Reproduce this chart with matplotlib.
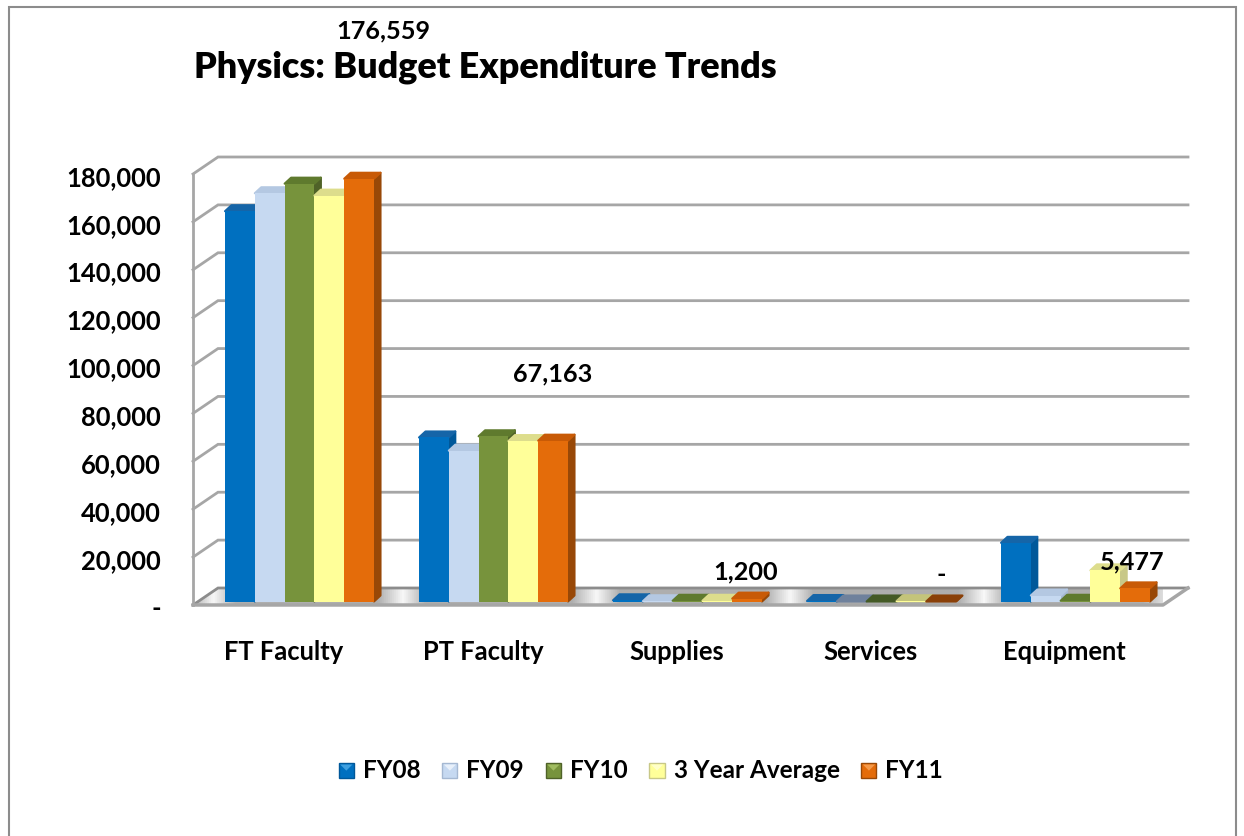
import numpy as np
import matplotlib
matplotlib.use("Agg")
import matplotlib.pyplot as plt
from matplotlib.patches import Polygon, Rectangle, Patch
from matplotlib.transforms import ScaledTranslation
from matplotlib.legend_handler import HandlerBase

plt.rcParams['font.family'] = ['Lato', 'DejaVu Sans']

categories = ["FT Faculty", "PT Faculty", "Supplies", "Services", "Equipment"]
series_names = ["FY08", "FY09", "FY10", "3 Year Average", "FY11"]
fy08 = [163000, 68500, 500, 200, 24500]
fy09 = [170500, 63000, 100, 0, 2500]
fy10 = [174500, 69000, 300, 0, 300]
avg3 = [169500, 67000, 300, 100, 13000]
fy11 = [176559, 67163, 1200, 0, 5477]
all_series = [fy08, fy09, fy10, avg3, fy11]

y_ticks = [0, 20000, 40000, 60000, 80000, 100000, 120000, 140000, 160000, 180000]
y_labels = ["-", "20,000", "40,000", "60,000", "80,000", "100,000", "120,000",
            "140,000", "160,000", "180,000"]
fy11_labels = ["176,559", "67,163", "1,200", "-", "5,477"]

front = ["#0070C0", "#C6D9F1", "#77933C", "#FFFF99", "#E46C0A"]
side = ["#00589A", "#A5B8D2", "#4F6228", "#C8C888", "#984807"]
top = ["#1565A8", "#B4C8E2", "#5F7A2E", "#DDDD8C", "#C85A06"]
flat_top = ["#1565A8", "#6F819C", "#445A25", "#C4C47A", "#8A4008"]
swatch_light = ["#3FA0E0", "#E8F0FA", "#A0BC60", "#FFFFC8", "#F59A4A"]

W, H = 1244, 836
fig = plt.figure(figsize=(W / 100, H / 100), dpi=100)
ax = fig.add_axes([193 / W, 1 - 605 / H, 970 / W, 431 / H])

# pixel sizes turned into data units
px_x = 5 / 970
px_y = 180000 / 431
wall_dx = 25 * px_x
wall_dy = 17 * px_y
bar_w = 29.8 * px_x
bar_dx = 6.5 * px_x
bar_dy = 6 * px_y
bar_base = 3.5 * px_y
group_start = 32 * px_x
grid_color = "#A6A6A6"

for s in ax.spines.values():
    s.set_visible(False)
ax.patch.set_alpha(0)

# floor, with the silver sheen of the office chart: white streaks in the gaps
floor = Polygon([(0, 0), (wall_dx, wall_dy), (5 + wall_dx, wall_dy), (5, 0)],
                closed=True, fc="none", ec="none", zorder=1, clip_on=False)
ax.add_patch(floor)
stops_x = [0, 0.1, 0.22, 0.95, 1.08, 1.2, 1.95, 2.08, 2.2, 2.95, 3.08, 3.2, 3.95, 4.08, 4.2, 4.9, 5.05, 5.13]
stops_v = [0.7, 0.97, 0.68, 0.68, 0.97, 0.68, 0.68, 0.97, 0.68, 0.68, 0.97, 0.68, 0.68, 0.97, 0.68, 0.68, 0.95, 0.85]
sheen = np.interp(np.linspace(0, 5 + wall_dx, 500), stops_x, stops_v)[None, :]
img = ax.imshow(sheen, cmap="gray", vmin=0, vmax=1, aspect="auto", zorder=1,
                extent=(0, 5 + wall_dx, 0, wall_dy), clip_on=True)
img.set_clip_path(floor)
ax.set_xlim(0, 5)
ax.set_ylim(0, 180000)

# walls and gridlines
for v in y_ticks:
    ax.plot([0, wall_dx, 5 + wall_dx], [v, v + wall_dy, v + wall_dy],
            color="#8C8C8C" if v == 0 else grid_color,
            lw=2, clip_on=False, zorder=1.5, solid_joinstyle="miter")
ax.plot([0, 0], [0, 180000], color=grid_color, lw=2, clip_on=False, zorder=1.5)
ax.plot([0, 5, 5 + wall_dx], [0, 0, wall_dy], color=grid_color, lw=2.5, clip_on=False, zorder=1.5)

# bars
for c in range(len(categories)):
    for i, vals in enumerate(all_series):
        x0 = c + group_start + i * bar_w
        x1 = x0 + bar_w
        v = vals[c] + bar_base
        z = 3 + c + i * 0.1
        top_color = flat_top[i] if categories[c] == "Services" else top[i]
        ax.add_patch(Polygon([(x1, bar_base), (x1 + bar_dx, bar_base + bar_dy),
                              (x1 + bar_dx, v + bar_dy), (x1, v)],
                             fc=side[i], ec=side[i], lw=1.5, joinstyle="round", zorder=z, clip_on=False))
        ax.add_patch(Polygon([(x0, v), (x0 + bar_dx, v + bar_dy),
                              (x1 + bar_dx, v + bar_dy), (x1, v)],
                             fc=top_color, ec=top_color, lw=1.5, joinstyle="round", zorder=z, clip_on=False))
        ax.bar(x0, vals[c], width=bar_w, bottom=bar_base, align="edge", color=front[i],
               zorder=z + 0.01, clip_on=False)

# FY11 data labels sit at odd places in the original
label_offsets = [(17.5, 98), (0, 40), (-1, 11), (0, 11), (-2, 11)]
for c, txt in enumerate(fy11_labels):
    x = c + group_start + 4.5 * bar_w
    ax.annotate(txt, (x, fy11[c] + bar_base), xytext=label_offsets[c], textcoords="offset points",
                ha="center", va="bottom", fontsize=18.2, fontweight="bold", color="black",
                zorder=20, annotation_clip=False)

ax.set_yticks(y_ticks)
ax.set_yticklabels(y_labels, fontsize=18.4, fontweight="bold")
ax.set_xticks([0.465, 1.495, 2.495, 3.49, 4.49])
ax.set_xticklabels(categories, fontsize=18.4, fontweight="bold")
ax.tick_params(axis="both", length=0)
ax.tick_params(axis="y", pad=23)
ax.tick_params(axis="x", pad=25)
for lab in ax.get_yticklabels():
    lab.set_transform(lab.get_transform() + ScaledTranslation(0, -1.3 / 72, fig.dpi_scale_trans))

fig.text(485 / W, 1 - 67.5 / H, "Physics: Budget Expenditure Trends", fontsize=25.8, fontweight="heavy",
         ha="center", va="center")


class SwatchHandler(HandlerBase):
    # legend key of the office 3d bars: a square with a light wedge at the top
    def create_artists(self, legend, orig, xd, yd, width, height, fontsize, trans):
        i = orig.idx
        box = Rectangle((xd, yd), width, width, fc=front[i], ec=side[i], lw=1, transform=trans)
        wedge = Polygon([(xd + 1, yd + width - 1), (xd + width - 1, yd + width - 1),
                         (xd + width / 2, yd + width / 2)],
                        fc=swatch_light[i], ec="none", transform=trans)
        return [box, wedge]


handles = []
for i in range(5):
    h = Patch()
    h.idx = i
    handles.append(h)
fig.legend(handles, series_names, loc="center", bbox_to_anchor=(641 / W, 1 - 770 / H), ncol=5,
           frameon=False, prop={"size": 17.5, "weight": "bold"}, handlelength=0.62, handleheight=0.62,
           handletextpad=0.37, columnspacing=0.9, handler_map={Patch: SwatchHandler()})

# chart area border
fig.add_artist(Rectangle((9 / W, -0.01), 1227 / W, 1.01 - 7 / H, transform=fig.transFigure,
                         fc="none", ec="#8C8C8C", lw=1.5, zorder=0))

fig.savefig("out.png", dpi=100)
